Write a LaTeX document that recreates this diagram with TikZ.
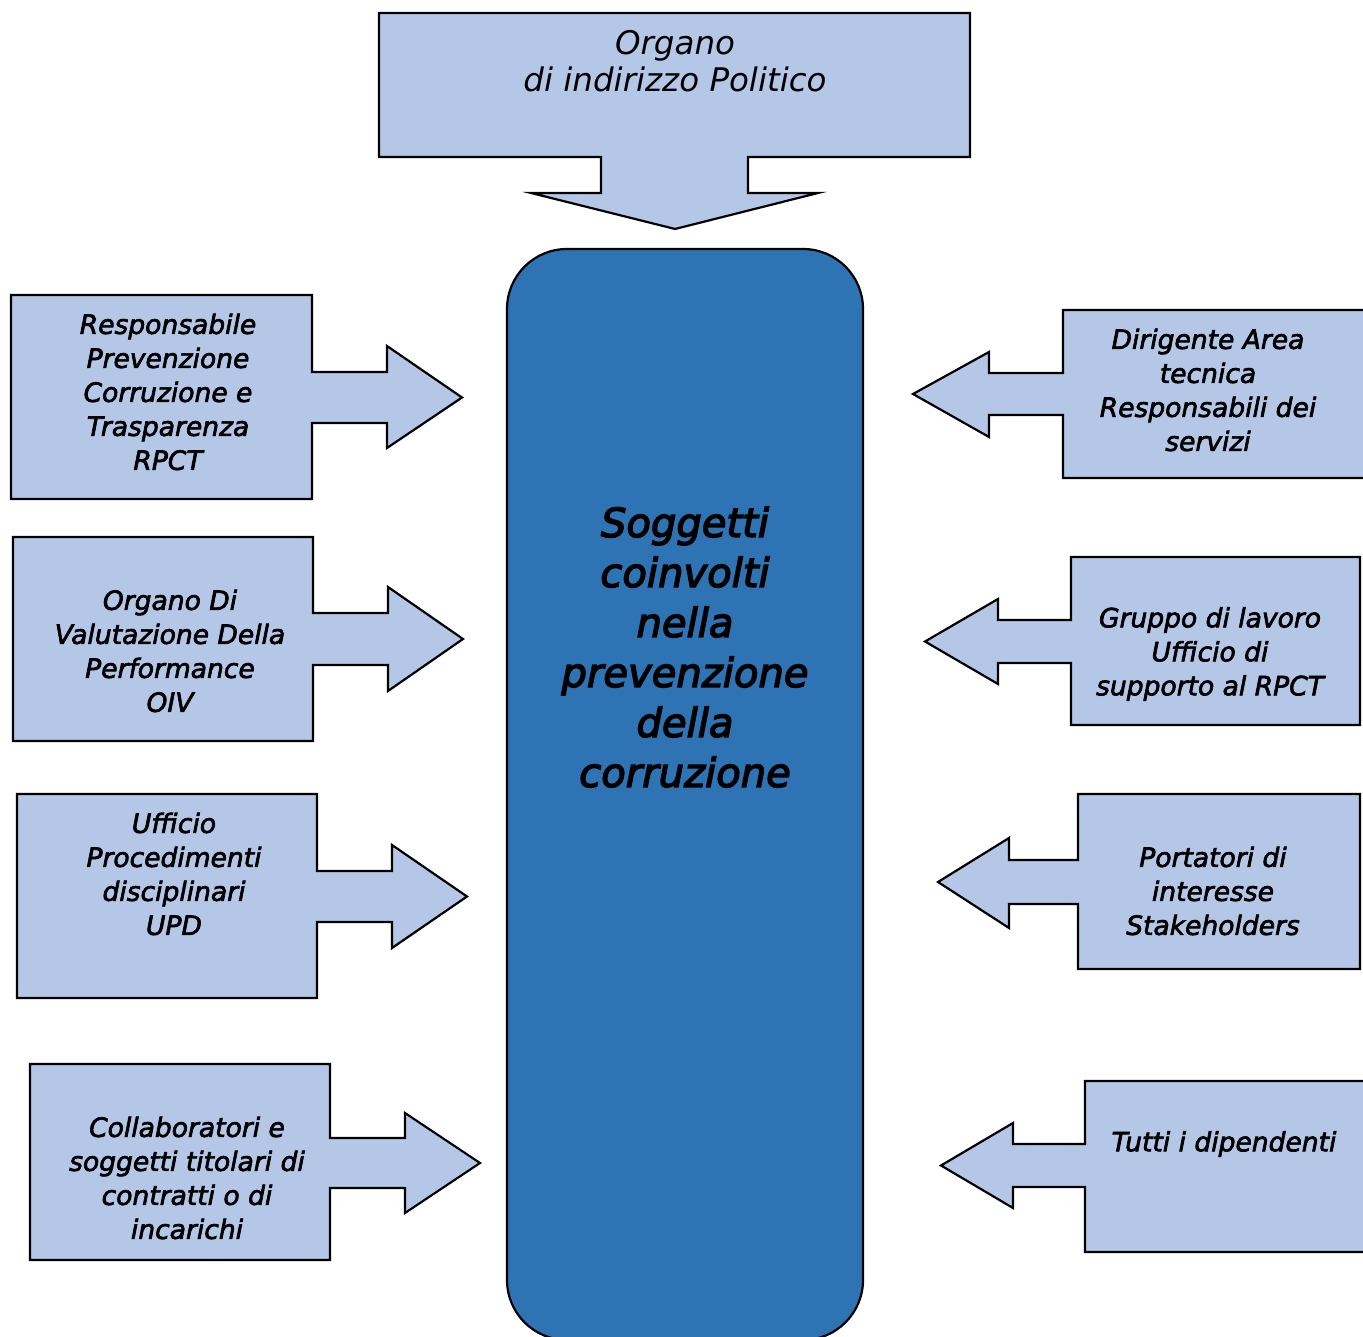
\documentclass[tikz,border=0pt]{standalone}
\usepackage{fontspec}
\setmainfont{DejaVu Sans}
\newfontfamily\sidefont{DejaVu Sans}[ItalicFeatures={FakeBold=2.5}]
\newfontfamily\hubfont{DejaVu Sans}[ItalicFeatures={FakeBold=3.5}]
\usepackage{tikz}
\usetikzlibrary{calc}
\definecolor{boxblue}{RGB}{180,199,231}
\definecolor{hubblue}{RGB}{46,116,181}
\tikzset{
  callout/.style={draw=black, fill=boxblue, line width=1.25pt, line join=miter},
  hubbox/.style ={draw=black, fill=hubblue, line width=1.25pt, rounded corners=1.2cm},
  sidetext/.style={align=center, inner sep=0pt,
                   font=\sidefont\fontsize{15.1}{19.35}\selectfont\itshape},
  toptext/.style ={align=center, inner sep=0pt,
                   font=\fontsize{18.5}{21.06}\selectfont\itshape},
  hubtext/.style ={align=center, inner sep=0pt,
                   font=\hubfont\fontsize{22.8}{28.45}\selectfont\itshape},
}

\begin{document}
\begin{tikzpicture}[x=0.02cm, y=-0.02cm]
  \useasboundingbox (0,0) rectangle (1363,1337);
  \clip (0,0) rectangle (1363,1337);
  % centre column
  \draw[hubbox] (507,249) rectangle (863,1340);
  \node[hubtext] (hub) at (685,647)
    {Soggetti\\coinvolti\\nella\\prevenzione\\della\\corruzione};
  % top callout
  \draw[callout] (379,13) -- (970,13) -- (970,157) -- (748,157) -- (748,193)
    -- (818,193) -- (675,229) -- (531,193) -- (601,193) -- (601,157)
    -- (379,157) -- cycle;
  \node[toptext] (organo) at (675,61) {Organo\\di indirizzo Politico};
  % left callouts, pointing right
  \foreach \L/\T/\R/\B/\sa/\sb/\H/\ha/\hb/\P in {
      11/295/312/499/372/423/387/346/448/462,
      13/537/313/741/613/665/388/587/691/463,
      17/794/317/998/871/922/392/845/948/467,
      30/1064/330/1260/1138/1188/405/1113/1213/480} {
    \draw[callout] (\L,\T) -- (\R,\T) -- (\R,\sa) -- (\H,\sa) -- (\H,\ha)
      -- (\P,{(\sa+\sb)/2}) -- (\H,\hb) -- (\H,\sb) -- (\R,\sb) -- (\R,\B)
      -- (\L,\B) -- cycle;
  }
  % right callouts, pointing left
  \foreach \L/\T/\R/\B/\sa/\sb/\H/\ha/\hb/\P in {
      1063/310/1366/478/373/415/989/352/437/913,
      1071/557/1360/725/620/663/998/599/684/925,
      1078/794/1360/969/860/904/1009/838/928/938,
      1085/1081/1366/1252/1144/1187/1013/1123/1208/941} {
    \draw[callout] (\R,\T) -- (\L,\T) -- (\L,\sa) -- (\H,\sa) -- (\H,\ha)
      -- (\P,{(\sa+\sb)/2}) -- (\H,\hb) -- (\H,\sb) -- (\L,\sb) -- (\L,\B)
      -- (\R,\B) -- cycle;
  }
  \node[sidetext] (rpct) at (168,392)
    {Responsabile\\Prevenzione\\Corruzione e\\Trasparenza\\RPCT};
  \node[sidetext] (oiv) at (170,651)
    {Organo Di\\Valutazione Della\\Performance\\OIV};
  \node[sidetext] (upd) at (174,874)
    {Ufficio\\Procedimenti\\disciplinari\\UPD};
  \node[sidetext] (collab) at (187,1178)
    {Collaboratori e\\soggetti titolari di\\contratti o di\\incarichi};
  \node[sidetext] (dirig) at (1208,390)
    {Dirigente Area\\tecnica\\Responsabili dei\\servizi};
  \node[sidetext] (gruppo) at (1210,654)
    {Gruppo di lavoro\\Ufficio di\\supporto al RPCT};
  \node[sidetext] (stake) at (1213,891)
    {Portatori di\\interesse\\Stakeholders};
  \node[sidetext] (dipend) at (1224,1144) {Tutti i dipendenti};
\end{tikzpicture}
\end{document}
